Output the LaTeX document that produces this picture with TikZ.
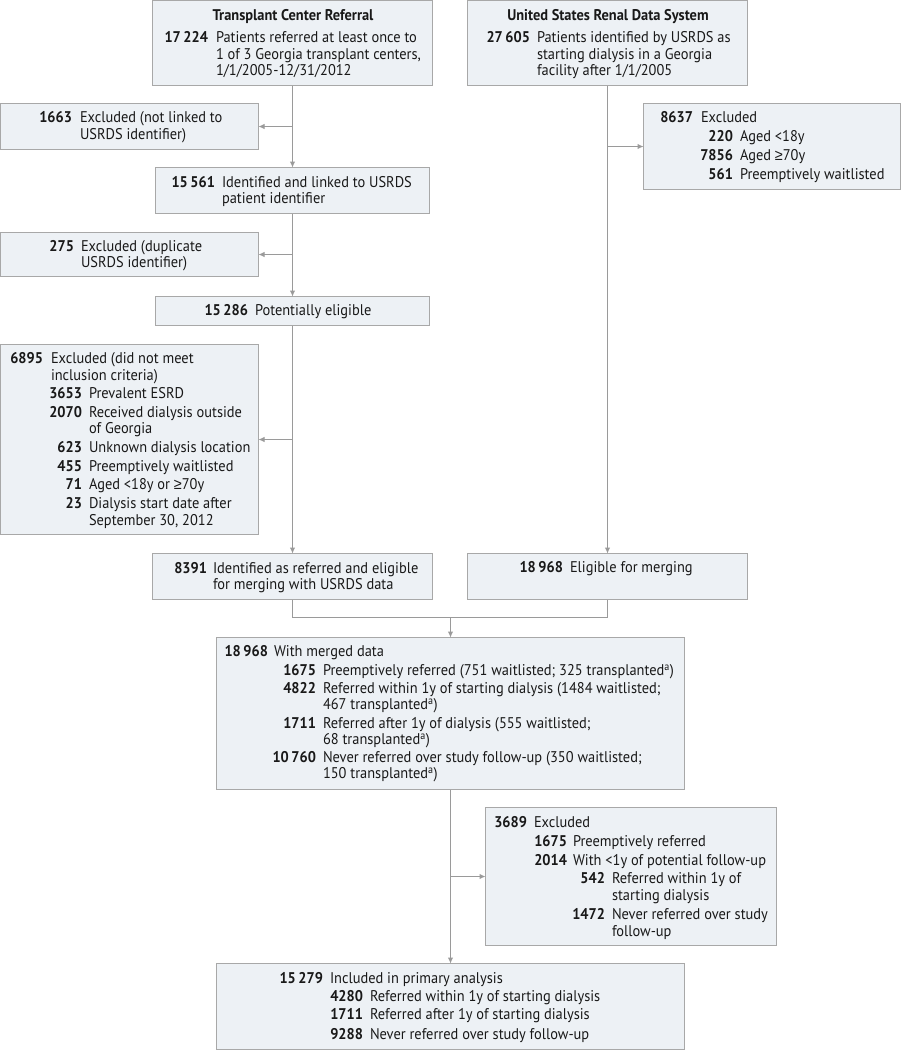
\documentclass[tikz,border=0pt]{standalone}
\usepackage{fontspec}
\setmainfont{PT Sans}[FakeStretch=0.93]
\newfontfamily\symf{Liberation Sans}[FakeStretch=0.93]
\usetikzlibrary{arrows.meta,fit}
\definecolor{boxfill}{HTML}{EDF1F5}
\definecolor{boxline}{HTML}{A8A8A8}
\definecolor{conn}{HTML}{9A9A9A}
\newcommand\GE{{\symf ≥}}
\newcounter{tnode}
\newcommand\TxtL[3]{\stepcounter{tnode}\node[txt,anchor=base west] (t\arabic{tnode}) at (#1,#2) {#3};}
\newcommand\TxtN[3]{\stepcounter{tnode}\node[txt,anchor=base east] (t\arabic{tnode}) at (#1,#2) {\bfseries #3};}
\newcommand\TxtC[3]{\stepcounter{tnode}\node[txt,anchor=base] (t\arabic{tnode}) at (#1,#2) {\bfseries #3};}
\newcommand\Bx[5]{\node[box,fit={(#2,#3)(#4,#5)}] (#1) {};}
\begin{document}
\begin{tikzpicture}[x=1pt,y=-1pt,
  box/.style={draw=boxline,fill=boxfill,line width=1pt,inner sep=0pt,outer sep=0pt},
  txt/.style={inner sep=0pt,outer sep=0pt,font=\fontsize{15.5}{17}\selectfont,text=black!90},
  ln/.style={draw=conn,line width=1pt},
  arr/.style={ln,-{Latex[length=6pt,width=5.5pt]}}]
\useasboundingbox[fill=white] (0,0) rectangle (901,1050);
% boxes
\Bx{b1}{152.5}{0.5}{432.5}{85.5}
\Bx{b2}{467.5}{0.5}{747.5}{85.5}
\Bx{e1}{0.5}{103.5}{258.5}{149.5}
\Bx{b3}{155.5}{167.5}{429.5}{213.5}
\Bx{e2}{0.5}{232.5}{258.5}{276.5}
\Bx{b5}{155.5}{296.5}{429.5}{325.5}
\Bx{u1}{643.5}{103.5}{900.5}{189.5}
\Bx{e3}{0.5}{344.5}{258.5}{534.5}
\Bx{b6}{152.5}{553.5}{432.5}{599.5}
\Bx{b7}{467.5}{553.5}{747.5}{599.5}
\Bx{m}{216.5}{637.5}{684.5}{789.5}
\Bx{e4}{485.5}{807.5}{776.5}{945.5}
\Bx{f}{216.5}{963.5}{684.5}{1049.5}
% connectors
\draw[arr] (b1.south) -- (b1.south |- b3.north);
\draw[arr] (b1.south |- e1.east) -- (e1.east);
\draw[arr] (b3.south) -- (b3.south |- b5.north);
\draw[arr] (b3.south |- e2.east) -- (e2.east);
\draw[arr] (b5.south) -- (b5.south |- b6.north);
\draw[arr] (b5.south |- e3.east) -- (e3.east);
\draw[arr] (b2.south) -- (b2.south |- b7.north);
\draw[arr] (b2.south |- u1.west) -- (u1.west);
\coordinate (mj) at (450.5,617.5);
\draw[ln] (b6.south) |- (b7.south |- mj) -- (b7.south);
\draw[arr] (mj) -- (mj |- m.north);
\draw[arr] (m.south) -- (m.south |- f.north);
\draw[arr] (m.south |- e4.west) -- (e4.west);
% b1
\TxtC{293}{20.5}{Transplant Center Referral}
\TxtN{208}{42.5}{17\,224}
\TxtL{216}{42.5}{Patients referred at least once to}
\TxtL{216}{59.5}{1 of 3 Georgia transplant centers,}
\TxtL{216}{75.5}{1/1/2005-12/31/2012}
% b2
\TxtC{608}{20.5}{United States Renal Data System}
\TxtN{530}{42.5}{27\,605}
\TxtL{537}{42.5}{Patients identified by USRDS as}
\TxtL{537}{59.5}{starting dialysis in a Georgia}
\TxtL{537}{75.5}{facility after 1/1/2005}
% e1
\TxtN{72}{122.5}{1663}
\TxtL{80}{122.5}{Excluded (not linked to}
\TxtL{80}{139.5}{USRDS identifier)}
% b3
\TxtN{215}{187.5}{15\,561}
\TxtL{222}{187.5}{Identified and linked to USRDS}
\TxtL{222}{203.5}{patient identifier}
% e2
\TxtN{74}{251.5}{275}
\TxtL{81}{251.5}{Excluded (duplicate}
\TxtL{81}{267.5}{USRDS identifier)}
% b5
\TxtN{248}{315.5}{15\,286}
\TxtL{255}{315.5}{Potentially eligible}
% u1
\TxtN{693}{122.5}{8637}
\TxtL{701}{122.5}{Excluded}
\TxtN{733}{141.5}{220}
\TxtL{740}{141.5}{Aged <18y}
\TxtN{733}{160.5}{7856}
\TxtL{740}{160.5}{Aged \GE70y}
\TxtN{733}{179.5}{561}
\TxtL{740}{179.5}{Preemptively waitlisted}
% e3
\TxtN{43}{363.5}{6895}
\TxtL{51}{363.5}{Excluded (did not meet}
\TxtL{51}{380.5}{inclusion criteria)}
\TxtN{82}{398.5}{3653}
\TxtL{89}{398.5}{Prevalent ESRD}
\TxtN{82}{417.5}{2070}
\TxtL{89}{417.5}{Received dialysis outside}
\TxtL{89}{433.5}{of Georgia}
\TxtN{82}{452.5}{623}
\TxtL{89}{452.5}{Unknown dialysis location}
\TxtN{82}{471.5}{455}
\TxtL{89}{471.5}{Preemptively waitlisted}
\TxtN{82}{489.5}{71}
\TxtL{89}{489.5}{Aged <18y or \GE70y}
\TxtN{82}{508.5}{23}
\TxtL{89}{508.5}{Dialysis start date after}
\TxtL{89}{525.5}{September 30, 2012}
% b6
\TxtN{207}{573.5}{8391}
\TxtL{213}{573.5}{Identified as referred and eligible}
\TxtL{213}{589.5}{for merging with USRDS data}
% b7
\TxtN{563}{572.5}{18\,968}
\TxtL{570}{572.5}{Eligible for merging}
% m
\TxtN{268}{656.5}{18\,968}
\TxtL{274}{656.5}{With merged data}
\TxtN{316}{675.5}{1675}
\TxtL{323}{675.5}{Preemptively referred (751 waitlisted; 325 transplanted\textsuperscript{a})}
\TxtN{316}{693.5}{4822}
\TxtL{323}{693.5}{Referred within 1y of starting dialysis (1484 waitlisted;}
\TxtL{323}{709.5}{467 transplanted\textsuperscript{a})}
\TxtN{316}{728.5}{1711}
\TxtL{323}{728.5}{Referred after 1y of dialysis (555 waitlisted;}
\TxtL{323}{744.5}{68 transplanted\textsuperscript{a})}
\TxtN{316}{762.5}{10\,760}
\TxtL{323}{762.5}{Never referred over study follow-up (350 waitlisted;}
\TxtL{323}{778.5}{150 transplanted\textsuperscript{a})}
% e4
\TxtN{527}{827.5}{3689}
\TxtL{534}{827.5}{Excluded}
\TxtN{567}{846.5}{1675}
\TxtL{573}{846.5}{Preemptively referred}
\TxtN{567}{865.5}{2014}
\TxtL{573}{865.5}{With <1y of potential follow-up}
\TxtN{605}{883.5}{542}
\TxtL{612}{883.5}{Referred within 1y of}
\TxtL{612}{900.5}{starting dialysis}
\TxtN{605}{919.5}{1472}
\TxtL{612}{919.5}{Never referred over study}
\TxtL{612}{936.5}{follow-up}
% f
\TxtN{323}{983.5}{15\,279}
\TxtL{330}{983.5}{Included in primary analysis}
\TxtN{363}{1001.5}{4280}
\TxtL{370}{1001.5}{Referred within 1y of starting dialysis}
\TxtN{363}{1019.5}{1711}
\TxtL{370}{1019.5}{Referred after 1y of starting dialysis}
\TxtN{363}{1039.5}{9288}
\TxtL{370}{1039.5}{Never referred over study follow-up}
\end{tikzpicture}
\end{document}
